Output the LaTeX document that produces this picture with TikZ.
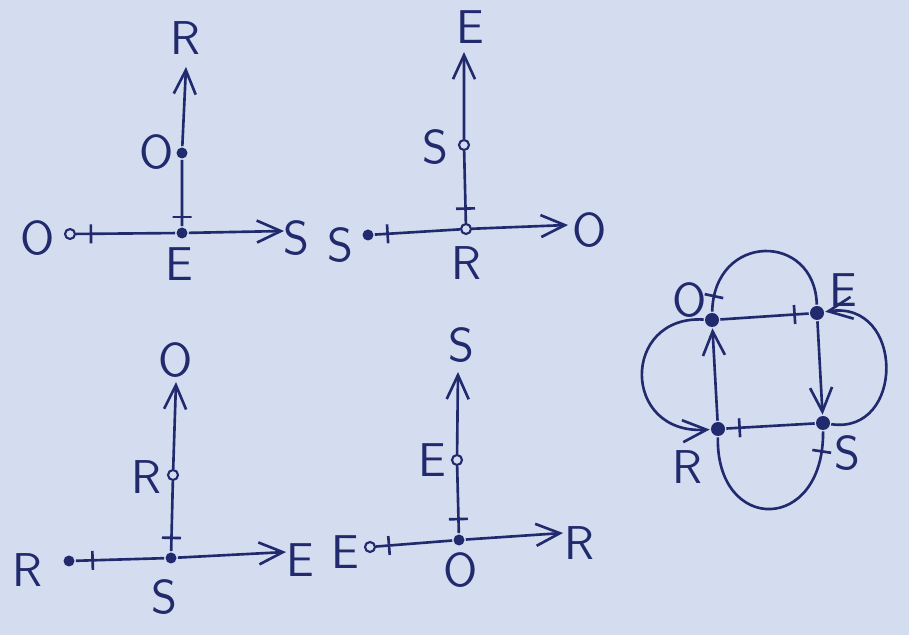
\documentclass[tikz,border=0pt]{standalone}
\usetikzlibrary{arrows.meta}
\definecolor{paper}{RGB}{212,221,240}
\definecolor{ink}{RGB}{32,42,108}
\tikzset{
  inkdot/.style={circle,fill=ink,inner sep=0pt,minimum size=1.1mm},
  ring/.style={circle,draw=ink,fill=paper,inner sep=0pt,minimum size=1mm,line width=0.6pt},
  bigdot/.style={circle,fill=ink,inner sep=0pt,minimum size=1.4mm},
  tickmark/.style={draw=ink,sloped,inner sep=0pt,minimum width=0pt,minimum height=1.9mm},
  lbl/.style={font=\fontsize{13.5}{16}\selectfont\sffamily,text=ink},
}

\begin{document}
\begin{tikzpicture}[ink,line width=0.75pt,>={Straight Barb[length=2.4mm,width=2.2mm]}]
   \fill[paper] (0,0) rectangle (9.09,6.35);
   \useasboundingbox (0,0) rectangle (9.09,6.35);
 % top left
   \node[inkdot] (aO) at (1.82,4.02) {};
   \node[ring]   (aL) at (0.70,4.01) {};
   \node[inkdot] (aV) at (1.82,4.82) {};
   \coordinate   (aX) at (2.84,4.04);
   \coordinate   (aY) at (1.86,5.68);
   \node[lbl] (aYl) at (1.85,5.97) {R};
   \node[lbl] (aVl) at (1.57,4.83) {O};
   \node[lbl] (aLl) at (0.38,3.97) {O};
   \node[lbl] (aXl) at (2.96,3.97) {S};
   \node[lbl] (aOl) at (1.79,3.71) {E};
   \draw[->] (aL) -- node[tickmark,pos=0.15] (aT1) {} (aO) -- (aX);
   \draw[->] (aO) -- node[tickmark,pos=0.14] (aT2) {} (aV) -- (aY);
 % top middle
   \node[ring]   (bO) at (4.66,4.06) {};
   \node[inkdot] (bL) at (3.68,4.00) {};
   \node[ring]   (bV) at (4.64,4.90) {};
   \coordinate   (bX) at (5.68,4.10);
   \coordinate   (bY) at (4.64,5.83);
   \node[lbl] (bYl) at (4.70,6.08) {E};
   \node[lbl] (bVl) at (4.35,4.88) {S};
   \node[lbl] (bLl) at (3.40,3.90) {S};
   \node[lbl] (bXl) at (5.90,4.05) {O};
   \node[lbl] (bOl) at (4.66,3.72) {R};
   \draw[->] (bL) -- node[tickmark,pos=0.15] (bT1) {} (bO) -- (bX);
   \draw[->] (bO) -- node[tickmark,pos=0.2] (bT2) {} (bV) -- (bY);
 % bottom left
   \node[inkdot] (cO) at (1.71,0.77) {};
   \node[inkdot] (cL) at (0.69,0.74) {};
   \node[ring]   (cV) at (1.73,1.60) {};
   \coordinate   (cX) at (2.86,0.83);
   \coordinate   (cY) at (1.76,2.53);
   \node[lbl] (cYl) at (1.76,2.75) {O};
   \node[lbl] (cVl) at (1.46,1.58) {R};
   \node[lbl] (cLl) at (0.27,0.65) {R};
   \node[lbl] (cXl) at (3.00,0.75) {E};
   \node[lbl] (cOl) at (1.64,0.38) {S};
   \draw[->] (cL) -- node[tickmark,pos=0.19] (cT1) {} (cO) -- (cX);
   \draw[->] (cO) -- node[tickmark,pos=0.19] (cT2) {} (cV) -- (cY);
 % bottom middle
   \node[inkdot] (dO) at (4.59,0.95) {};
   \node[ring]   (dL) at (3.70,0.88) {};
   \node[ring]   (dV) at (4.57,1.75) {};
   \coordinate   (dX) at (5.63,1.02);
   \coordinate   (dY) at (4.58,2.63);
   \node[lbl] (dYl) at (4.61,2.90) {S};
   \node[lbl] (dVl) at (4.32,1.75) {E};
   \node[lbl] (dLl) at (3.45,0.83) {E};
   \node[lbl] (dXl) at (5.79,0.92) {R};
   \node[lbl] (dOl) at (4.61,0.65) {O};
   \draw[->] (dL) -- node[tickmark,pos=0.17] (dT1) {} (dO) -- (dX);
   \draw[->] (dO) -- node[tickmark,pos=0.21] (dT2) {} (dV) -- (dY);
 % graph
   \node[bigdot] (gO) at (7.12,3.15) {};
   \node[bigdot] (gE) at (8.17,3.22) {};
   \node[bigdot] (gS) at (8.23,2.12) {};
   \node[bigdot] (gR) at (7.18,2.06) {};
   \node[lbl] (gOl) at (6.90,3.35) {O};
   \node[lbl] (gEl) at (8.43,3.45) {E};
   \node[lbl] (gSl) at (8.47,1.82) {S};
   \node[lbl] (gRl) at (6.87,1.68) {R};
   \draw (gO) -- node[tickmark,pos=0.84] (gT1) {} (gE);
   \draw[->] (gE) -- (gS);
   \draw (gS) -- node[tickmark,pos=0.85] (gT2) {} (gR);
   \draw[->] (gR) -- (gO);
   \draw (gO) .. controls (7.14,4.03) and (8.15,4.03) .. node[tickmark,pos=0.07] (gT3) {} (gE);
   \draw[->] (gS) .. controls (9.05,2.0) and (9.05,3.35) .. (gE);
   \draw (gR) .. controls (7.16,1.01) and (8.24,1.01) .. node[tickmark,pos=0.93] (gT4) {} (gS);
   \draw[->] (gO) .. controls (6.21,3.2) and (6.21,2.0) .. (gR);
\end{tikzpicture}
\end{document}
